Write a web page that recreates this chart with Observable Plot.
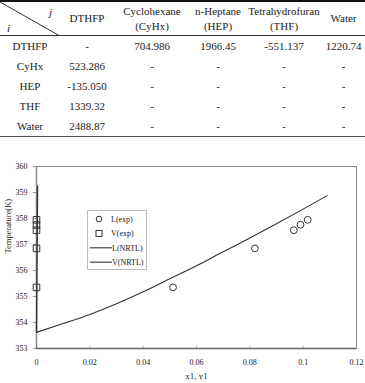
<!DOCTYPE html>
<html>
<head>
<meta charset="utf-8">
<script src="https://cdn.jsdelivr.net/npm/d3@7"></script>
<script src="https://cdn.jsdelivr.net/npm/@observablehq/plot@0.6"></script>
<style>
  html, body { margin: 0; padding: 0; background: #fff; }
  body { width: 365px; height: 383px; overflow: hidden; font-family: "Liberation Serif", "Times New Roman", serif; color: #222; }
  #params { border-collapse: separate; border-spacing: 0; table-layout: fixed; width: 365px; font-size: 11px; font-family: "Liberation Serif", serif; }
  #params td, #params th { padding: 0; text-align: center; font-weight: normal; white-space: nowrap; }
  #params thead th { height: 33px; border-top: 2px solid #111; border-bottom: 1px solid #333; line-height: 15px; }
  #params tbody td { height: 20px; line-height: 20px; }
  #params tbody tr:last-child td { height: 20px; border-bottom: 1.5px solid #555; }
  #params th.corner { position: relative; }
  #params th.corner svg { position: absolute; left: 0; top: 0; }
  #chart { position: relative; height: 243px; }
  #legend { position: absolute; left: 87px; top: 73px; }
</style>
</head>
<body>
<table id="params"></table>
<div id="chart"></div>
<script>
// NRTL binary interaction parameters (i = row component, j = column component)
const colHeads = [["DTHFP"], ["Cyclohexane", "(CyHx)"], ["n-Heptane", "(HEP)"], ["Tetrahydrofuran", "(THF)"], ["Water"]];
const rowHeads = ["DTHFP", "CyHx", "HEP", "THF", "Water"];
const paramRows = [
  ["-", "704.986", "1966.45", "-551.137", "1220.74"],
  ["523.286", "-", "-", "-", "-"],
  ["-135.050", "-", "-", "-", "-"],
  ["1339.32", "-", "-", "-", "-"],
  ["2488.87", "-", "-", "-", "-"]
];
const colWidths = [60, 54, 76, 56, 76, 43];

// Experimental liquid-phase points
const lExpX = [0.0512, 0.0819, 0.0965, 0.0990, 0.1017];
const lExpT = [355.35, 356.85, 357.55, 357.76, 357.95];
// Experimental vapour-phase points
const vExpX = [0, 0, 0, 0, 0];
const vExpT = [355.35, 356.85, 357.55, 357.75, 357.95];
// NRTL liquid curve
const lNrtlX = [0, 0.01, 0.02, 0.03, 0.04, 0.05, 0.06, 0.07, 0.08, 0.09, 0.10, 0.109];
const lNrtlT = [353.62, 353.96, 354.31, 354.72, 355.18, 355.68, 356.18, 356.72, 357.25, 357.80, 358.36, 358.88];
// NRTL vapour curve
const vNrtlX = [0, 0.0001, 0.0002, 0.0003, 0.0004];
const vNrtlT = [353.62, 355.0, 356.4, 357.8, 359.25];

const xTicks = [0, 0.02, 0.04, 0.06, 0.08, 0.1, 0.12];
const yTicks = [353, 354, 355, 356, 357, 358, 359, 360];

// ---- parameter table ----
const table = d3.select("#params");
table.append("colgroup").selectAll("col").data(colWidths).join("col").style("width", d => d + "px");
const hr = table.append("thead").append("tr");
const corner = hr.append("th").attr("class", "corner");
const csvg = corner.append("svg").attr("width", 60).attr("height", 34);
csvg.append("line").attr("x1", 0).attr("y1", 0).attr("x2", 60).attr("y2", 34).attr("stroke", "#333").attr("stroke-width", 1);
csvg.append("text").attr("x", 49).attr("y", 14).attr("font-style", "italic").attr("font-size", 11).attr("fill", "#222").text("j");
csvg.append("text").attr("x", 7).attr("y", 30).attr("font-style", "italic").attr("font-size", 11).attr("fill", "#222").text("i");
hr.selectAll("th.h").data(colHeads).join("th").attr("class", "h").html(d => d.join("<br>"));
const tb = table.append("tbody");
const rows = tb.selectAll("tr").data(rowHeads).join("tr");
rows.append("td").text(d => d);
rows.selectAll("td.v").data((d, i) => paramRows[i]).join("td").attr("class", "v").text(d => d);

// ---- T-x-y diagram ----
const lExp = lExpX.map((x, i) => ({x, T: lExpT[i]}));
const vExp = vExpX.map((x, i) => ({x, T: vExpT[i]}));
const lNrtl = lNrtlX.map((x, i) => ({x, T: lNrtlT[i]}));
const vNrtl = vNrtlX.map((x, i) => ({x, T: vNrtlT[i]}));
const fmt = d => String(+d.toFixed(2));

const plot = Plot.plot({
  width: 365,
  height: 243,
  marginLeft: 36,
  marginRight: 9,
  marginTop: 29,
  marginBottom: 32,
  style: {fontFamily: "Liberation Serif, Times New Roman, serif", fontSize: "8px", color: "#222", background: "#fff"},
  x: {domain: [0, 0.12]},
  y: {domain: [353, 360]},
  marks: [
    Plot.frame({stroke: "#888", strokeWidth: 1}),
    Plot.axisY({ticks: yTicks, tickFormat: d => String(d), tickSize: 3, tickPadding: 6, stroke: "#999", label: null}),
    Plot.axisX({ticks: xTicks, tickFormat: fmt, tickSize: 0, tickPadding: 11, label: null}),
    Plot.ruleX(xTicks.slice(1, -1), {y1: 353, y2: 353.1, stroke: "#bbb"}),
    Plot.ruleX([0], {stroke: "#888", strokeWidth: 1.5}),
    Plot.ruleY([353], {stroke: "#666", strokeWidth: 1.5}),
    Plot.line(lNrtl, {x: "x", y: "T", stroke: "#333", strokeWidth: 1.1, curve: "monotone-x"}),
    Plot.line(vNrtl, {x: "x", y: "T", stroke: "#333", strokeWidth: 1.4}),
    Plot.dot(lExp, {x: "x", y: "T", r: 3.4, stroke: "#333", strokeWidth: 1, fill: "none"}),
    Plot.dot(vExp, {x: "x", y: "T", symbol: "square", r: 3.7, stroke: "#333", strokeWidth: 1, fill: "none"}),
    Plot.text(["x1, y1"], {frameAnchor: "bottom", dy: 30, fontSize: 9}),
    Plot.text(["Temperature(K)"], {frameAnchor: "left", rotate: -90, dx: -28, dy: -4, fontSize: 8.5})
  ]
});
document.getElementById("chart").appendChild(plot);

// ---- legend ----
const legendItems = [
  {label: "L(exp)", kind: "circle"},
  {label: "V(exp)", kind: "square"},
  {label: "L(NRTL)", kind: "line"},
  {label: "V(NRTL)", kind: "line"}
];
const lg = d3.select("#chart").append("svg").attr("id", "legend").attr("width", 60).attr("height", 60)
  .style("font-family", "Liberation Serif, Times New Roman, serif").style("font-size", "8px");
lg.append("rect").attr("x", 0.5).attr("y", 0.5).attr("width", 59).attr("height", 59).attr("fill", "#fff").attr("stroke", "#bbb");
const items = lg.selectAll("g").data(legendItems).join("g").attr("transform", (d, i) => `translate(0,${9 + i * 14.4})`);
items.filter(d => d.kind === "circle").append("circle").attr("cx", 12).attr("r", 2.8).attr("fill", "none").attr("stroke", "#333");
items.filter(d => d.kind === "square").append("rect").attr("x", 9).attr("y", -3).attr("width", 6).attr("height", 6).attr("fill", "none").attr("stroke", "#333");
items.filter(d => d.kind === "line").append("line").attr("x1", 3).attr("x2", 25).attr("stroke", "#333").attr("stroke-width", 1.1);
items.append("text").attr("x", d => d.kind === "line" ? 25 : 24).attr("dy", "0.35em").attr("fill", "#222").text(d => d.label);
</script>
</body>
</html>
